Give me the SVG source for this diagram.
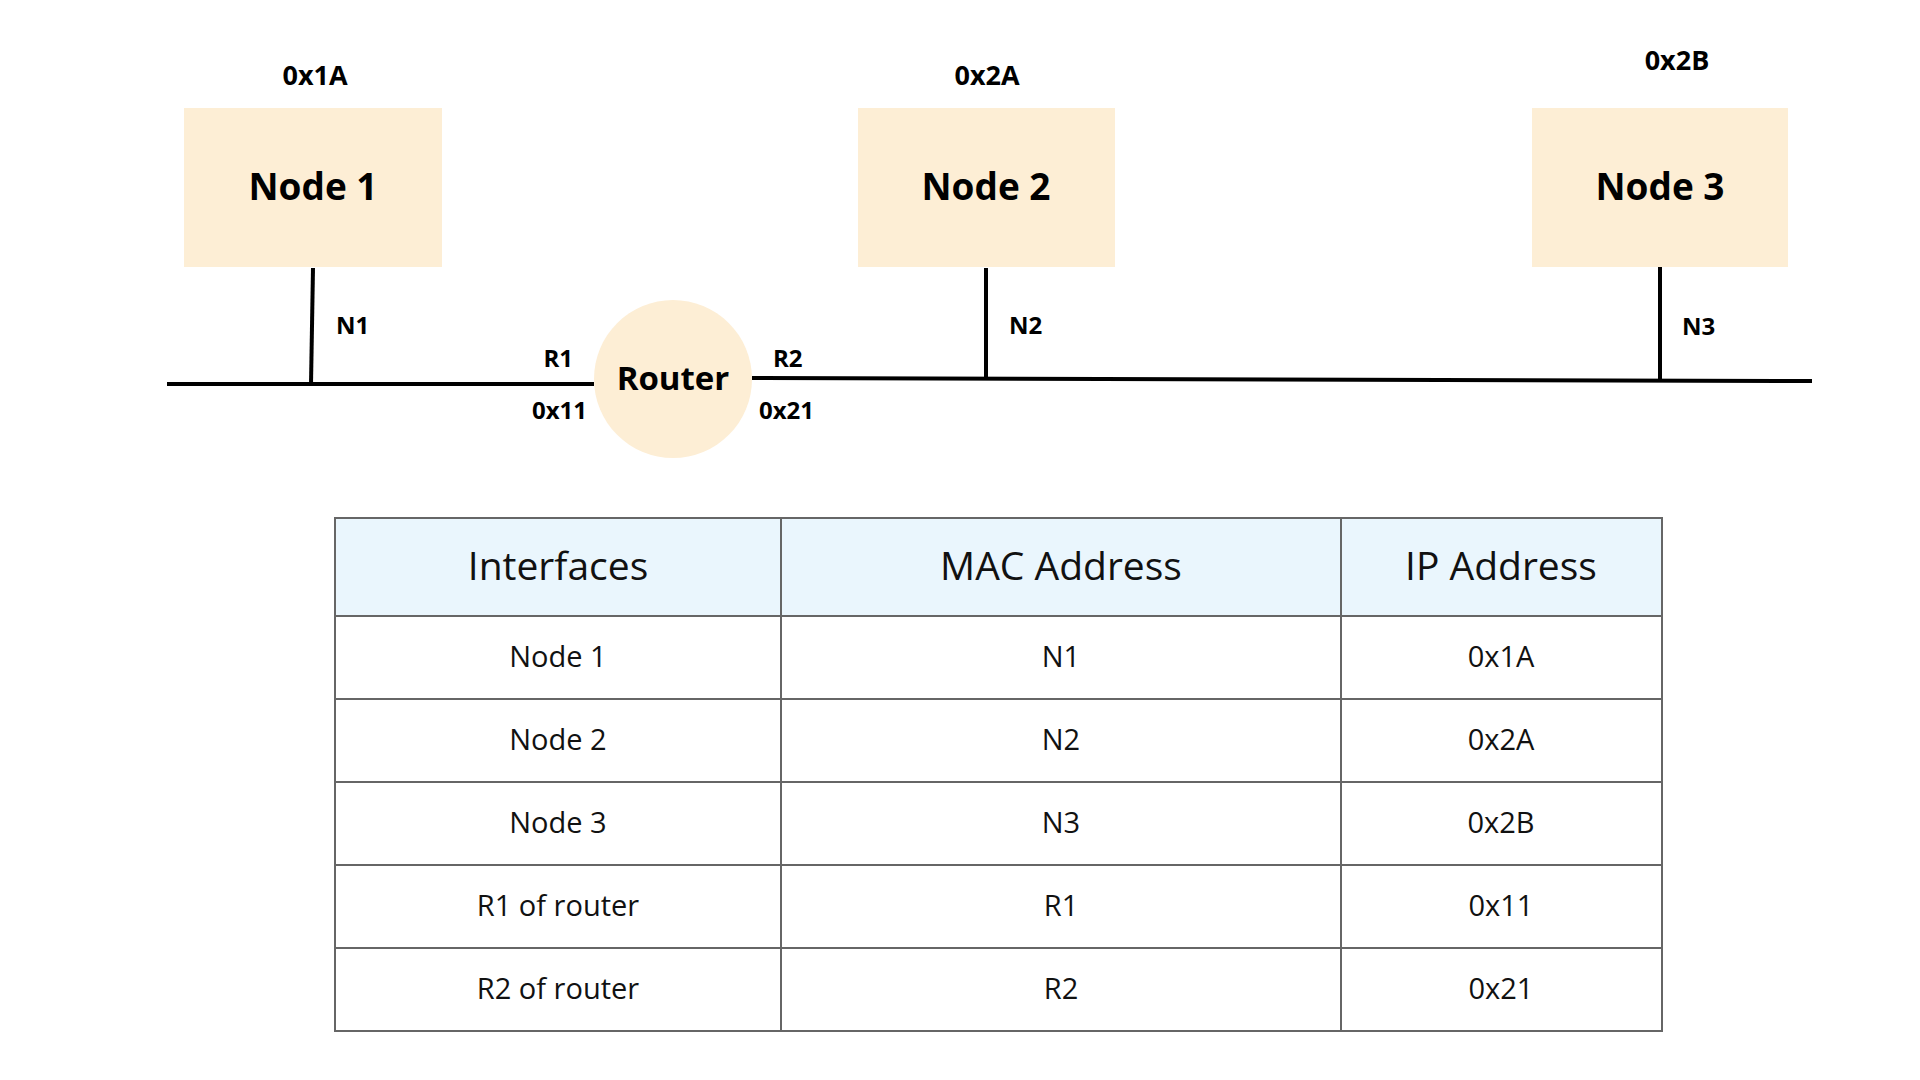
<svg xmlns="http://www.w3.org/2000/svg" width="1920" height="1080" viewBox="0 0 1920 1080">
  <style>
    .box { fill: #FDEED5; }
    .bold { font-family: "Open Sans", "Liberation Sans", sans-serif; font-weight: 700; fill: #000; }
    .title { font-size: 37px; text-anchor: middle; }
    .ip { font-size: 27px; text-anchor: middle; }
    .lbl { font-size: 24px; }
    .wire { stroke: #000; stroke-width: 4; fill: none; }
    .grid { stroke: #666; stroke-width: 2; fill: none; }
    .th { font-family: "Open Sans", "Liberation Sans", sans-serif; font-size: 39px; fill: #111; text-anchor: middle; }
    .td { font-family: "Open Sans", "Liberation Sans", sans-serif; font-size: 29px; fill: #111; text-anchor: middle; }
  </style>
  <rect width="1920" height="1080" fill="#fff"/>

  <g id="connectors">
    <line class="wire" x1="167" y1="384" x2="594" y2="384"/>
    <line class="wire" x1="752" y1="378" x2="1812" y2="381"/>
    <line class="wire" x1="313" y1="268" x2="311" y2="384"/>
    <line class="wire" x1="986" y1="268" x2="986" y2="379"/>
    <line class="wire" x1="1660" y1="265" x2="1660" y2="380"/>
    <text class="bold lbl" x="336" y="334">N1</text>
    <text class="bold lbl" x="1009" y="334">N2</text>
    <text class="bold lbl" x="1682" y="335">N3</text>
    <text class="bold lbl" x="573" y="367" text-anchor="end">R1</text>
    <text class="bold lbl" x="587" y="419" text-anchor="end">0x11</text>
    <text class="bold lbl" x="773" y="367">R2</text>
    <text class="bold lbl" x="759" y="419">0x21</text>
  </g>

  <g id="node1">
    <text class="bold ip" x="315" y="85">0x1A</text>
    <rect class="box" x="184" y="108" width="258" height="159"/>
    <text class="bold title" x="313" y="200">Node 1</text>
  </g>
  <g id="node2">
    <text class="bold ip" x="987" y="85">0x2A</text>
    <rect class="box" x="858" y="108" width="257" height="159"/>
    <text class="bold title" x="986" y="200">Node 2</text>
  </g>
  <g id="node3">
    <text class="bold ip" x="1677" y="70">0x2B</text>
    <rect class="box" x="1532" y="108" width="256" height="159"/>
    <text class="bold title" x="1660" y="200">Node 3</text>
  </g>
  <g id="router">
    <circle class="box" cx="673" cy="379" r="79"/>
    <text class="bold" x="673" y="390" font-size="33" text-anchor="middle">Router</text>
  </g>

  <g id="table">
    <rect x="335" y="518" width="1327" height="98" fill="#EAF6FD"/>
    <rect class="grid" x="335" y="518" width="1327" height="513"/>
    <line class="grid" x1="335" y1="616" x2="1662" y2="616"/>
    <line class="grid" x1="335" y1="699" x2="1662" y2="699"/>
    <line class="grid" x1="335" y1="782" x2="1662" y2="782"/>
    <line class="grid" x1="335" y1="865" x2="1662" y2="865"/>
    <line class="grid" x1="335" y1="948" x2="1662" y2="948"/>
    <line class="grid" x1="781" y1="518" x2="781" y2="1031"/>
    <line class="grid" x1="1341" y1="518" x2="1341" y2="1031"/>
    <text class="th" x="558" y="580">Interfaces</text>
    <text class="th" x="1061" y="580">MAC Address</text>
    <text class="th" x="1501" y="580">IP Address</text>
    <text class="td" x="558" y="667">Node 1</text>
    <text class="td" x="1061" y="667">N1</text>
    <text class="td" x="1501" y="667">0x1A</text>
    <text class="td" x="558" y="750">Node 2</text>
    <text class="td" x="1061" y="750">N2</text>
    <text class="td" x="1501" y="750">0x2A</text>
    <text class="td" x="558" y="833">Node 3</text>
    <text class="td" x="1061" y="833">N3</text>
    <text class="td" x="1501" y="833">0x2B</text>
    <text class="td" x="558" y="916">R1 of router</text>
    <text class="td" x="1061" y="916">R1</text>
    <text class="td" x="1501" y="916">0x11</text>
    <text class="td" x="558" y="999">R2 of router</text>
    <text class="td" x="1061" y="999">R2</text>
    <text class="td" x="1501" y="999">0x21</text>
  </g>
</svg>
